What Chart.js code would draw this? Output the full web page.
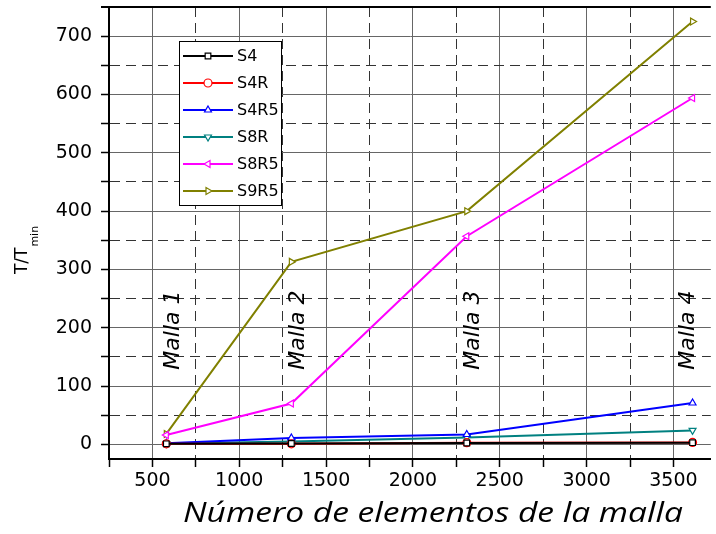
<!DOCTYPE html>
<html lang="es">
<head>
<meta charset="UTF-8">
<title>T/Tmin frente al número de elementos de la malla</title>
<script src="https://cdn.jsdelivr.net/npm/chart.js"></script>
<style>
  html, body { margin: 0; padding: 0; background: #fff; overflow: hidden; }
  #wrap { width: 716px; height: 534px; }
</style>
</head>
<body>
<div id="wrap"><canvas id="chaMalla" width="716" height="534"></canvas></div>
<script>
// number of elements of each mesh
const elementos = [580, 1300, 2310, 3610];
const mallas = ['Malla 1', 'Malla 2', 'Malla 3', 'Malla 4'];

// T/Tmin per element type
const s4   = [1, 1.5, 2.5, 3];
const s4r  = [1, 1, 3, 3.5];
const s4r5 = [2, 11, 17, 71];
const s8r  = [1.5, 5, 12, 24];
const s8r5 = [16, 70, 357, 594];
const s9r5 = [18, 313, 400, 725];

const xTicks = [500, 1000, 1500, 2000, 2500, 3000, 3500];
const yTicks = [0, 100, 200, 300, 400, 500, 600, 700];

const series = [
    { label: 'S4',   values: s4,   color: '#000000', style: 'rect',     rot: 0 },
    { label: 'S4R',  values: s4r,  color: '#ff0000', style: 'circle',   rot: 0 },
    { label: 'S4R5', values: s4r5, color: '#0000ff', style: 'triangle', rot: 0 },
    { label: 'S8R',  values: s8r,  color: '#008080', style: 'triangle', rot: 180 },
    { label: 'S8R5', values: s8r5, color: '#ff00ff', style: 'triangle', rot: 270 },
    { label: 'S9R5', values: s9r5, color: '#808000', style: 'triangle', rot: 90 }
];

// major ticks from the lists above plus a minor tick half way between each
function withMinor(major, from, to) {
    const step = (major[1] - major[0]) / 2;
    const out = [];
    for (let v = from; v <= to; v += step) out.push({ value: v });
    return out;
}

function marker(ctx, s, x, y) {
    ctx.fillStyle = '#fff';
    ctx.strokeStyle = s.color;
    ctx.lineWidth = 1.2;
    if (Chart.helpers && Chart.helpers.drawPoint) {
        Chart.helpers.drawPoint(ctx, { pointStyle: s.style, rotation: s.rot, radius: 4, borderWidth: 1.2 }, x, y);
    }
}

// frame, mesh labels, legend box and axis titles
const extras = {
    id: 'extras',
    beforeDatasetsDraw(chart) {
        const { ctx, chartArea: a } = chart;
        ctx.save();
        ctx.strokeStyle = '#000';
        ctx.lineWidth = 2;
        ctx.beginPath();
        ctx.moveTo(a.left - 8, a.top);
        ctx.lineTo(a.right, a.top);
        ctx.stroke();
        ctx.restore();
    },
    afterDatasetsDraw(chart) {
        const { ctx, chartArea: a, scales } = chart;
        ctx.save();

        // Malla n labels
        ctx.fillStyle = '#000';
        ctx.font = 'italic 22px "DejaVu Sans"';
        ctx.textAlign = 'center';
        ctx.textBaseline = 'middle';
        const ly = scales.y.getPixelForValue(196);
        mallas.forEach((m, i) => {
            const lx = Math.min(scales.x.getPixelForValue(elementos[i]) + 7, a.right - 23);
            ctx.save();
            ctx.translate(lx, ly);
            ctx.rotate(-Math.PI / 2);
            ctx.fillText(m, 0, 0);
            ctx.restore();
        });

        // legend
        const bx = a.left + 70, by = a.top + 34, bw = 102, bh = 164;
        ctx.fillStyle = '#fff';
        ctx.fillRect(bx, by, bw, bh);
        ctx.strokeStyle = '#000';
        ctx.lineWidth = 1;
        ctx.strokeRect(bx + 0.5, by + 0.5, bw, bh);
        ctx.font = '16px "DejaVu Sans"';
        ctx.textAlign = 'left';
        series.forEach((s, i) => {
            const ry = by + 15 + i * 27;
            ctx.strokeStyle = s.color;
            ctx.lineWidth = 2;
            ctx.beginPath();
            ctx.moveTo(bx + 4, ry);
            ctx.lineTo(bx + 54, ry);
            ctx.stroke();
            marker(ctx, s, bx + 29, ry);
            ctx.fillStyle = '#000';
            ctx.fillText(s.label, bx + 58, ry + 1);
        });
        ctx.restore();
    },
    afterDraw(chart) {
        const { ctx } = chart;
        ctx.save();
        ctx.fillStyle = '#000';

        // x title, stretched a little like the original
        const xt = 'Número de elementos de la malla';
        ctx.font = 'italic 28px "Open Sans"';
        ctx.textAlign = 'center';
        ctx.textBaseline = 'middle';
        const w = ctx.measureText(xt).width;
        ctx.translate(433, 514);
        ctx.scale(500 / w, 1);
        ctx.fillText(xt, 0, 0);
        ctx.setTransform(1, 0, 0, 1, 0, 0);

        // y title T/T with subscript min
        ctx.textAlign = 'left';
        ctx.textBaseline = 'alphabetic';
        ctx.font = '17px "DejaVu Sans"';
        const w1 = ctx.measureText('T/T').width;
        ctx.font = '11px "DejaVu Sans"';
        const w2 = ctx.measureText('min').width;
        ctx.translate(21, 250);
        ctx.rotate(-Math.PI / 2);
        const x0 = -(w1 + w2 + 1) / 2;
        ctx.font = '17px "DejaVu Sans"';
        ctx.fillText('T/T', x0, 6);
        ctx.font = '11px "DejaVu Sans"';
        ctx.fillText('min', x0 + w1 + 1, 17);
        ctx.restore();
    }
};

new Chart(document.getElementById('chaMalla').getContext('2d'), {
    type: 'line',
    data: {
        datasets: series.map(s => ({
            label: s.label,
            data: elementos.map((x, i) => ({ x: x, y: s.values[i] })),
            borderColor: s.color,
            backgroundColor: '#fff',
            borderWidth: 2,
            tension: 0,
            fill: false,
            pointStyle: s.style,
            pointRotation: s.rot,
            pointRadius: 4,
            pointBorderWidth: 1.2,
            pointBackgroundColor: '#fff',
            pointBorderColor: s.color
        }))
    },
    options: {
        responsive: false,
        animation: false,
        devicePixelRatio: 1,
        layout: { padding: { top: 7, right: 0, bottom: 0, left: 0 } },
        plugins: {
            legend: { display: false },
            tooltip: { enabled: false }
        },
        scales: {
            x: {
                type: 'linear',
                min: 250,
                max: 3715,
                afterBuildTicks: s => { s.ticks = withMinor(xTicks, 250, 3500); },
                afterFit: s => { s.height = 75; s.paddingLeft = 0; s.paddingRight = 0; },
                ticks: {
                    autoSkip: false,
                    maxRotation: 0,
                    padding: 3,
                    color: '#000',
                    font: { family: 'DejaVu Sans', size: 19 },
                    callback: v => xTicks.includes(v) ? String(v) : ''
                },
                grid: {
                    color: c => (c.tick && !xTicks.includes(c.tick.value)) ? '#333' : '#666',
                    lineWidth: 1,
                    tickLength: 8,
                    tickColor: '#000',
                    tickWidth: 1.5
                },
                border: {
                    color: '#000',
                    width: 2,
                    dash: c => (c.tick && !xTicks.includes(c.tick.value)) ? [10, 6] : []
                }
            },
            y: {
                min: -25,
                max: 750,
                afterBuildTicks: s => { s.ticks = withMinor(yTicks, 0, 700); },
                afterFit: s => { s.width = 109; s.paddingTop = 0; s.paddingBottom = 0; },
                ticks: {
                    autoSkip: false,
                    padding: 9,
                    color: '#000',
                    font: { family: 'DejaVu Sans', size: 19 },
                    callback: v => yTicks.includes(v) ? String(v) : ''
                },
                grid: {
                    color: c => (c.tick && !yTicks.includes(c.tick.value)) ? '#333' : '#666',
                    lineWidth: 1,
                    tickLength: 8,
                    tickColor: '#000',
                    tickWidth: 1.5
                },
                border: {
                    color: '#000',
                    width: 2,
                    dash: c => (c.tick && !yTicks.includes(c.tick.value)) ? [10, 6] : []
                }
            }
        }
    },
    plugins: [extras]
});
</script>
</body>
</html>
